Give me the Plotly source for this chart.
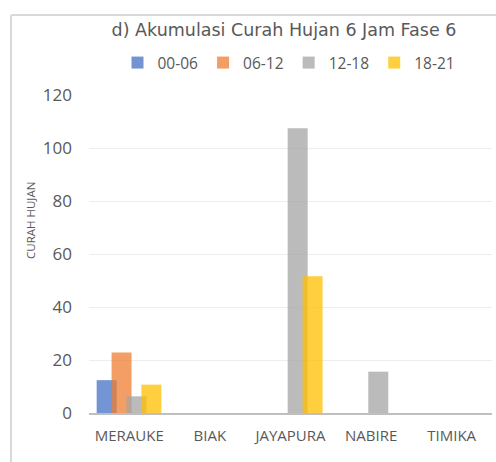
import plotly.graph_objects as go

categories = ["MERAUKE", "BIAK", "JAYAPURA", "NABIRE", "TIMIKA"]
series_names = ["00-06", "06-12", "12-18", "18-21"]
s_00_06 = [12.4, 0, 0, 0, 0]
s_06_12 = [22.8, 0, 0, 0, 0]
s_12_18 = [6.3, 0, 107.5, 15.6, 0]
s_18_21 = [10.7, 0, 51.6, 0, 0]
y_ticks = [0, 20, 40, 60, 80, 100, 120]

colors = ["#4472C4", "#ED7D31", "#A5A5A5", "#FFC000"]
offsets = [-0.405, -0.22, -0.035, 0.15]
bar_width = 0.248

W, H = 496, 462
L, R, T, B = 89, 4, 95, 49
pw, ph = W - L - R, H - T - B

def px_x(x):
    return (x - L) / pw

def px_y(y):
    return (H - B - y) / ph

font_family = "Open Sans, Noto Sans, sans-serif"
txt = "#595959"

fig = go.Figure()
for name, vals, c, off in zip(series_names, [s_00_06, s_06_12, s_12_18, s_18_21], colors, offsets):
    fig.add_trace(go.Bar(
        name=name, x=categories, y=vals,
        marker=dict(color=c, line=dict(width=0)),
        opacity=0.75, offset=off, width=bar_width,
    ))

fig.update_layout(
    width=W, height=H,
    margin=dict(l=L, r=R, t=T, b=B, pad=0),
    barmode="overlay",
    paper_bgcolor="white", plot_bgcolor="white",
    font=dict(family=font_family, color=txt),
    title=dict(text="d) Akumulasi Curah Hujan 6 Jam Fase 6",
               x=284 / W, xanchor="center", xref="container",
               y=1 - 30 / H, yanchor="middle", yref="container",
               font=dict(size=17.5, color=txt, family="DejaVu Sans, sans-serif")),
    legend=dict(orientation="h", x=px_x(289), xanchor="center",
                y=1 + (T - 63) / ph, yanchor="middle",
                font=dict(size=15.5, color=txt),
                itemwidth=30,
                traceorder="normal", bgcolor="rgba(0,0,0,0)"),
    xaxis=dict(showgrid=False, showline=True, linecolor="#BFBFBF", linewidth=2,
               ticks="", tickfont=dict(size=15, color=txt), ticklabelstandoff=8,
               range=[-0.5, 4.5]),
    yaxis=dict(range=[0, 120], tickvals=y_ticks, showgrid=True, gridcolor="#EDEDED",
               gridwidth=1, zeroline=False, showline=False, ticks="",
               tickfont=dict(size=17, color=txt), ticklabelstandoff=16),
    showlegend=True,
)

fig.add_annotation(text="CURAH HUJAN", textangle=-90, xref="paper", yref="paper",
                   x=px_x(30), y=px_y(221), xanchor="center", yanchor="middle",
                   showarrow=False, font=dict(size=11.5, color=txt))

border = "#D9D9D9"
fig.add_shape(type="line", xref="paper", yref="paper", x0=px_x(11), x1=px_x(11),
              y0=px_y(15), y1=px_y(470), line=dict(color=border, width=2))
fig.add_shape(type="line", xref="paper", yref="paper", x0=px_x(11), x1=px_x(500),
              y0=px_y(15), y1=px_y(15), line=dict(color=border, width=2))

fig.write_html("out.html", config={"displayModeBar": False},
               post_script="document.body.style.margin='0';document.body.style.overflow='hidden';")
